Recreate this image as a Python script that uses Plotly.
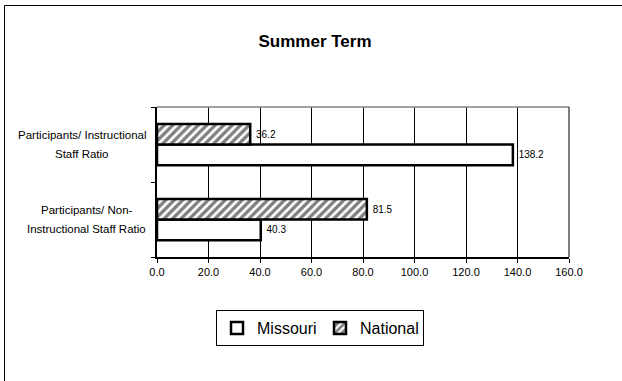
import plotly.graph_objects as go

title_text = "Summer Term"
categories = ["Participants/ Non-Instructional Staff Ratio", "Participants/ Instructional Staff Ratio"]
label_lines = [["Participants/ Non-", "Instructional Staff Ratio"],
               ["Participants/ Instructional", "Staff Ratio"]]
missouri = [40.3, 138.2]
national = [81.5, 36.2]
x_ticks = [0, 20, 40, 60, 80, 100, 120, 140, 160]

FONT = "Liberation Sans, Arial, sans-serif"

L, R, T, B = 157, 53, 107, 124
W, H = 622, 381
pw = W - L - R
ph = H - T - B

def px_to_paper_x(px):
    return (px - L) / pw

def px_to_paper_y(py):
    return (H - B - py) / ph

fig = go.Figure()
fig.add_trace(go.Bar(
    y=categories, x=missouri, orientation="h", name="Missouri",
    marker=dict(color="white", line=dict(color="black", width=2.5)),
    texttemplate="\u00a0%{x:.1f}", textposition="outside",
    textfont=dict(size=10, color="black", family=FONT), cliponaxis=False,
))
fig.add_trace(go.Bar(
    y=categories, x=national, orientation="h", name="National",
    marker=dict(color="white", line=dict(color="black", width=2.5),
                pattern=dict(shape="/", fgcolor="black", bgcolor="white", size=6, solidity=0.55)),
    texttemplate="\u00a0%{x:.1f}", textposition="outside",
    textfont=dict(size=10, color="black", family=FONT), cliponaxis=False,
))

annotations = []
centers = [86.5, 82]
for cat, lines, cx in zip(categories, label_lines, centers):
    for i, line in enumerate(lines):
        annotations.append(dict(
            text=line, xref="paper", yref="y", x=px_to_paper_x(cx), y=cat,
            xanchor="center", yanchor="middle", yshift=9.5 if i == 0 else -9.5,
            showarrow=False, font=dict(size=11.5, color="black", family=FONT),
        ))

fig.update_layout(
    width=W, height=H,
    margin=dict(l=L, r=R, t=T, b=B),
    paper_bgcolor="white", plot_bgcolor="white",
    font=dict(family=FONT, color="black"),
    title=dict(text=f"<b>{title_text}</b>", x=315 / W, xref="container", xanchor="center",
               y=1 - 41 / H, yref="container", yanchor="middle",
               font=dict(size=17, color="black", family=FONT)),
    barmode="group", bargap=0.45, bargroupgap=0,
    xaxis=dict(range=[0, 160], tickvals=x_ticks, ticktext=[f"{v:.1f}" for v in x_ticks],
               showgrid=True, gridcolor="black", gridwidth=1,
               showline=True, linecolor="black", linewidth=1.5,
               ticks="outside", ticklen=4, tickcolor="black",
               tickfont=dict(size=11, color="black", family=FONT), zeroline=False, fixedrange=True),
    yaxis=dict(categoryorder="array", categoryarray=categories,
               showticklabels=False, showgrid=False,
               showline=True, linecolor="black", linewidth=1.5,
               ticks="outside", ticklen=4, tickcolor="black", tickson="boundaries",
               fixedrange=True),
    legend=dict(orientation="h", x=px_to_paper_x(320), xanchor="center",
                y=px_to_paper_y(310), yanchor="top", entrywidth=58,
                bordercolor="black", borderwidth=1, bgcolor="white",
                font=dict(size=16, color="black", family=FONT), traceorder="normal"),
    annotations=annotations,
    shapes=[
        dict(type="line", xref="paper", yref="paper", x0=0, x1=1, y0=1, y1=1,
             line=dict(color="#808080", width=1.5)),
        dict(type="line", xref="paper", yref="paper", x0=1, x1=1, y0=0, y1=1,
             line=dict(color="black", width=1)),
        dict(type="rect", xref="paper", yref="paper",
             x0=px_to_paper_x(4.5), x1=px_to_paper_x(630),
             y0=px_to_paper_y(390), y1=px_to_paper_y(5.5),
             line=dict(color="black", width=1), layer="above"),
    ],
)

fig.write_html("out.html", config={"displayModeBar": False},
               post_script="document.body.style.margin='0';document.body.style.overflow='hidden';")
